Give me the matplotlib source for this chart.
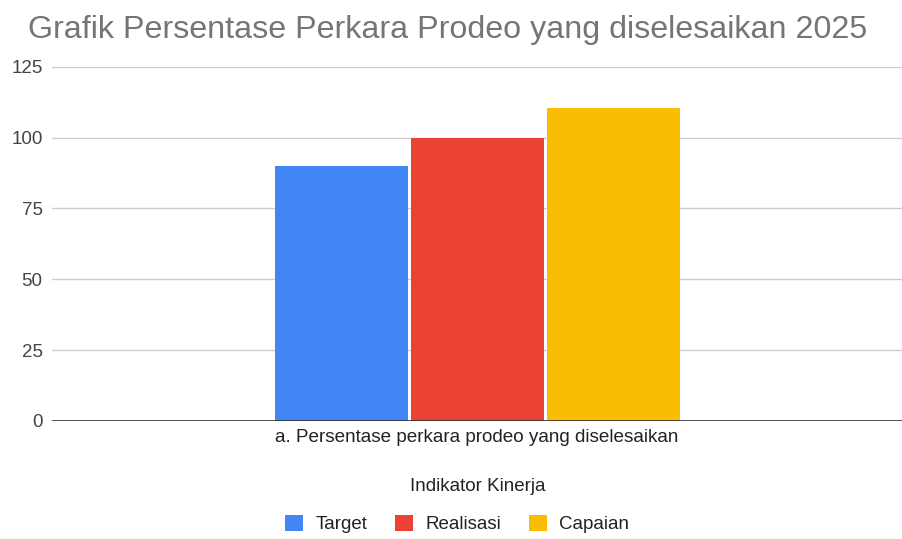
import matplotlib
matplotlib.use("Agg")
import matplotlib.pyplot as plt
import numpy as np

categories = ["a. Persentase perkara prodeo yang diselesaikan"]
series_names = ["Target", "Realisasi", "Capaian"]
series_values = [[90], [100], [110.5]]
colors = ["#4285f4", "#ea4335", "#fbbc04"]
y_ticks = [0, 25, 50, 75, 100, 125]

plt.rcParams["font.family"] = ["Liberation Sans", "DejaVu Sans"]

fig = plt.figure(figsize=(9.02, 5.39), dpi=100)
ax = fig.add_axes([0.058, 0.219, 0.942, 0.657])

x = np.arange(len(categories))
width = 0.1565
gap = 0.0035
for i, (name, vals) in enumerate(zip(series_names, series_values)):
    offs = x + (i - 1) * (width + gap)
    ax.bar(offs, vals, width, color=colors[i], label=name, zorder=3)

ax.set_xlim(-0.5, 0.5)
ax.set_ylim(0, 125)
ax.set_yticks(y_ticks)
ax.set_yticklabels([str(t) for t in y_ticks], fontsize=13.5, color="#444444")
ax.tick_params(axis="y", length=0, pad=7)
ax.grid(axis="y", color="#cccccc", linewidth=1, zorder=0)
ax.axhline(0, color="#333333", linewidth=1.2, zorder=4)
for s in ax.spines.values():
    s.set_visible(False)

ax.set_xticks(x)
ax.set_xticklabels(categories, fontsize=13.6, color="#222222")
ax.tick_params(axis="x", length=0, pad=6)

fig.text(0.53, 0.097, "Indikator Kinerja", ha="center", va="center",
         fontsize=13.5, color="#222222")
fig.text(0.496, 0.945, "Grafik Persentase Perkara Prodeo yang diselesaikan 2025",
         ha="center", va="center", fontsize=23.2, color="#757575")

fig.legend(loc="center", bbox_to_anchor=(0.507, 0.028), ncol=3, frameon=False,
           fontsize=13.5, handlelength=0.96, handleheight=1.0, columnspacing=1.5,
           handletextpad=0.64, labelcolor="#222222", borderpad=0)

fig.savefig("out.png", dpi=100)
